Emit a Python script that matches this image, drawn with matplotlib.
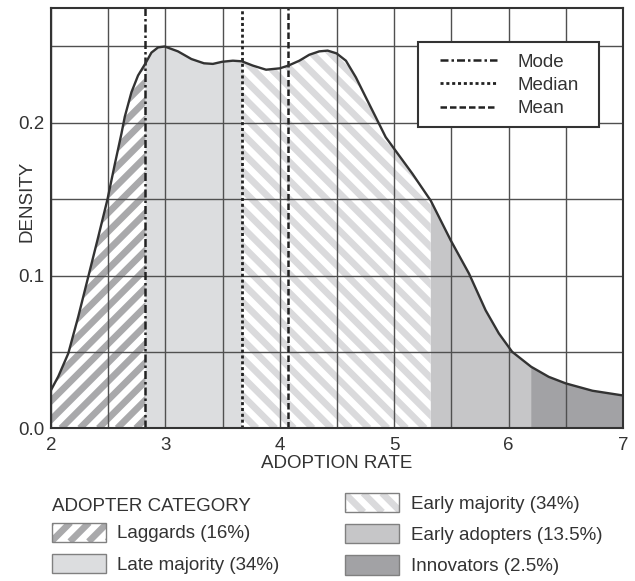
import numpy as np
import matplotlib.pyplot as plt
import matplotlib.patches as mpatches
from matplotlib.collections import LineCollection
from matplotlib.legend_handler import HandlerBase
from matplotlib.ticker import MultipleLocator

plt.rcParams['font.family'] = ['Liberation Sans', 'DejaVu Sans']

# density curve
rate = [2.0, 2.064, 2.151, 2.238, 2.325, 2.412, 2.494, 2.558, 2.616, 2.645,
        2.703, 2.761, 2.826, 2.878, 2.936, 2.994, 3.11, 3.227, 3.337, 3.415,
        3.497, 3.59, 3.668, 3.764, 3.88, 4.0, 4.075, 4.171, 4.258, 4.345,
        4.418, 4.496, 4.578, 4.665, 4.752, 4.839, 4.926, 5.0, 5.159, 5.32,
        5.494, 5.654, 5.799, 5.915, 6.031, 6.197, 6.351, 6.5, 6.733, 7.0]
density = [0.025, 0.034, 0.049, 0.073, 0.099, 0.125, 0.150, 0.173, 0.193, 0.204,
           0.220, 0.231, 0.239, 0.246, 0.2494, 0.250, 0.2468, 0.2418, 0.239, 0.2386,
           0.240, 0.2407, 0.2403, 0.2375, 0.2348, 0.2357, 0.2375, 0.2407, 0.2446, 0.2468,
           0.2473, 0.2455, 0.2407, 0.2298, 0.2167, 0.2037, 0.1906, 0.183, 0.1667, 0.149,
           0.1231, 0.1013, 0.0773, 0.0621, 0.0501, 0.0403, 0.0337, 0.0294, 0.0246, 0.0215]

mode = 2.826
median = 3.668
mean = 4.075

# adopter categories and where each one starts / ends on the rate axis
categories = ['Laggards (16%)', 'Late majority (34%)', 'Early majority (34%)',
              'Early adopters (13.5%)', 'Innovators (2.5%)']
cat_start = [2.0, 2.826, 3.668, 5.32, 6.197]
cat_end = [2.826, 3.668, 5.32, 6.197, 7.0]

# facecolor, stripe colour, stripe direction (+1 = '/', -1 = '\')
styles = [('white', '#a9a9ab', 1),
          ('#dcdddf', None, 0),
          ('white', '#dadadc', -1),
          ('#c6c6c8', None, 0),
          ('#a2a2a5', None, 0)]

STRIPE_PERIOD = 18.7   # horizontal period in px
STRIPE_LW = 4.8        # points

x = np.array(rate)
y = np.array(density)

fig = plt.figure(figsize=(6.35, 5.81), dpi=100)
ax = fig.add_axes([0.0803, 0.2628, 0.9008, 0.7229])
W = 0.9008 * 635
H = 0.7229 * 581


def stripe_segments(w, h, period, direction):
    segs = []
    for p in np.arange(-h - period, w + period, period):
        if direction > 0:
            segs.append([(p, 0), (p + h, h)])
        else:
            segs.append([(p, h), (p + h, 0)])
    return np.array(segs)


for lo, hi, (fc, sc, d) in zip(cat_start, cat_end, styles):
    m = (x >= lo - 1e-9) & (x <= hi + 1e-9)
    coll = ax.fill_between(x[m], 0, y[m], facecolor=fc, linewidth=0, zorder=1)
    if d:
        segs = stripe_segments(W, H, STRIPE_PERIOD, d)
        segs[:, :, 0] /= W
        segs[:, :, 1] /= H
        lc = LineCollection(segs, colors=sc, linewidths=STRIPE_LW,
                            transform=ax.transAxes, zorder=1.5, capstyle='butt')
        lc.set_clip_path(coll.get_paths()[0], ax.transData)
        ax.add_collection(lc, autolim=False)

ax.plot(x, y, color='#333333', lw=1.7, zorder=4, solid_capstyle='round')

ln_mode = ax.axvline(mode, color='#222222', lw=1.8, ls=(0, (3.2, 1.2, 1, 1.2)), zorder=3)
ln_med = ax.axvline(median, color='#222222', lw=2.0, ls=(0, (1.1, 1.0)), zorder=3)
ln_mean = ax.axvline(mean, color='#222222', lw=1.8, ls=(0, (2.6, 1.2)), zorder=3)

ax.set_xlim(2, 7)
ax.set_ylim(0, 0.275)
ax.xaxis.set_major_locator(MultipleLocator(1))
ax.xaxis.set_minor_locator(MultipleLocator(0.5))
ax.yaxis.set_major_locator(MultipleLocator(0.1))
ax.yaxis.set_minor_locator(MultipleLocator(0.05))
ax.yaxis.set_major_formatter(plt.FormatStrFormatter('%.1f'))
ax.set_axisbelow(False)
ax.grid(which='both', color='#505050', lw=1.0, zorder=2)
ax.tick_params(which='both', length=0, labelsize=13.5, labelcolor='#333333')
ax.tick_params(axis='x', pad=6)
ax.tick_params(axis='y', pad=5)
for s in ax.spines.values():
    s.set_color('#333333')
    s.set_linewidth(1.5)
    s.set_zorder(5)

ax.set_xlabel('ADOPTION RATE', fontsize=13.5, color='#333333', labelpad=1)
ax.set_ylabel('DENSITY', fontsize=13.5, color='#333333')
ax.yaxis.set_label_coords(-0.027, 0.54)

# legend for the three reference lines, frame drawn as its own box
ax.add_patch(mpatches.Rectangle((0.6416, 0.7174), 0.3164, 0.2012, transform=ax.transAxes,
                                facecolor='white', edgecolor='#333333', lw=1.5, zorder=6))
leg = ax.legend([ln_mode, ln_med, ln_mean], ['Mode', 'Median', 'Mean'],
                loc='upper left', bbox_to_anchor=(0.680, 0.8924), borderaxespad=0,
                fontsize=13.5, labelcolor='#333333', handlelength=3.04,
                handletextpad=1.07, borderpad=0, labelspacing=0.33, frameon=False)
leg.set_zorder(7)


class StripeHandler(HandlerBase):
    def __init__(self, color, direction):
        super().__init__()
        self.color = color
        self.direction = direction

    def create_artists(self, legend, orig_handle, xdescent, ydescent, width,
                       height, fontsize, trans):
        box = mpatches.Rectangle((-xdescent, -ydescent), width, height,
                                 facecolor='white', edgecolor='none', transform=trans)
        segs = stripe_segments(width, height, STRIPE_PERIOD * 0.72, self.direction)
        segs[:, :, 0] -= xdescent
        segs[:, :, 1] -= ydescent
        lc = LineCollection(segs, colors=self.color, linewidths=STRIPE_LW,
                            transform=trans, capstyle='butt')
        lc.set_clip_path(box)
        edge = mpatches.Rectangle((-xdescent, -ydescent), width, height,
                                  facecolor='none', edgecolor='#808080', lw=1.0,
                                  transform=trans)
        return [box, lc, edge]


handles = []
hmap = {}
for fc, sc, d in styles:
    h = mpatches.Patch(facecolor=fc, edgecolor='#808080', lw=1.0)
    if d:
        hmap[h] = StripeHandler(sc, d)
    handles.append(h)

common = dict(fontsize=13.5, labelcolor='#333333', handlelength=2.9,
              handleheight=1.2, handletextpad=0.6, labelspacing=0.6,
              borderpad=0, borderaxespad=0, frameon=False, loc='upper left',
              bbox_transform=fig.transFigure, handler_map=hmap)
fig.legend(handles[:2], categories[:2],
           bbox_to_anchor=(0.0814, 1 - 522.5 / 581), **common)
fig.legend(handles[2:], categories[2:],
           bbox_to_anchor=(0.5433, 1 - 493 / 581), **common)
fig.text(0.0814, 1 - 510.7 / 581, 'ADOPTER CATEGORY', fontsize=13.5,
         color='#333333', va='baseline', ha='left')

fig.savefig('out.png', dpi=100)
